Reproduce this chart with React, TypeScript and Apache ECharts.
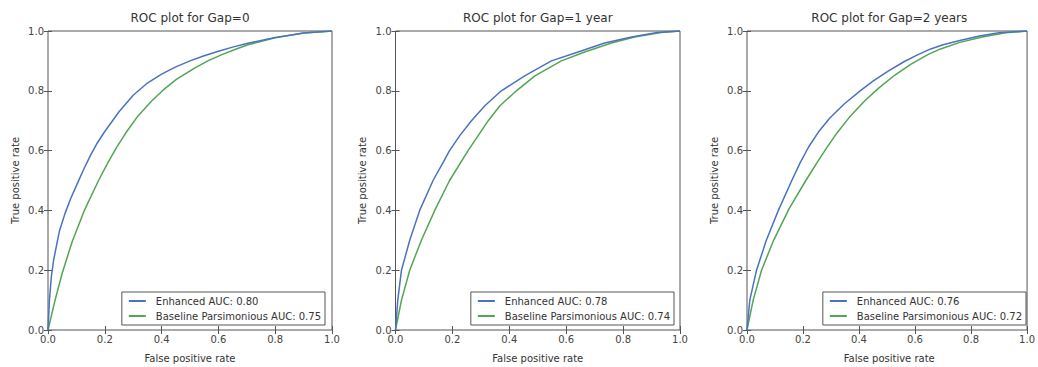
import React, { useEffect, useRef } from "react";
import * as echarts from "echarts";

const panelTitles = ["ROC plot for Gap=0", "ROC plot for Gap=1 year", "ROC plot for Gap=2 years"];
const enhancedNames = ["Enhanced AUC: 0.80", "Enhanced AUC: 0.78", "Enhanced AUC: 0.76"];
const baselineNames = [
  "Baseline Parsimonious AUC: 0.75",
  "Baseline Parsimonious AUC: 0.74",
  "Baseline Parsimonious AUC: 0.72",
];
const xTitle = "False positive rate";
const yTitle = "True positive rate";

const gap0Enhanced: [number, number][] = [
  [0, 0], [0.005, 0.1], [0.012, 0.18], [0.02, 0.235], [0.04, 0.33], [0.06, 0.39], [0.08, 0.44],
  [0.1, 0.483], [0.125, 0.536], [0.15, 0.585], [0.175, 0.628], [0.2, 0.664], [0.25, 0.73],
  [0.3, 0.785], [0.35, 0.826], [0.4, 0.856], [0.45, 0.88], [0.5, 0.9], [0.55, 0.917],
  [0.6, 0.932], [0.65, 0.946], [0.7, 0.958], [0.8, 0.978], [0.9, 0.993], [1, 1],
];
const gap0Baseline: [number, number][] = [
  [0, 0], [0.025, 0.1], [0.05, 0.19], [0.085, 0.295], [0.128, 0.4], [0.178, 0.5], [0.211, 0.56],
  [0.241, 0.61], [0.276, 0.662], [0.317, 0.716], [0.364, 0.765], [0.405, 0.802], [0.452, 0.838],
  [0.516, 0.876], [0.563, 0.9], [0.61, 0.92], [0.663, 0.94], [0.704, 0.954], [0.8, 0.977],
  [0.9, 0.993], [1, 1],
];
const gap1Enhanced: [number, number][] = [
  [0, 0], [0.008, 0.1], [0.021, 0.2], [0.05, 0.3], [0.085, 0.4], [0.132, 0.5], [0.167, 0.56],
  [0.19, 0.6], [0.226, 0.65], [0.267, 0.7], [0.314, 0.75], [0.372, 0.8], [0.454, 0.85],
  [0.548, 0.9], [0.642, 0.93], [0.735, 0.96], [0.83, 0.98], [0.92, 0.995], [1, 1],
];
const gap1Baseline: [number, number][] = [
  [0, 0], [0.021, 0.1], [0.05, 0.2], [0.091, 0.3], [0.138, 0.4], [0.19, 0.5], [0.255, 0.6],
  [0.326, 0.7], [0.367, 0.75], [0.425, 0.8], [0.49, 0.85], [0.583, 0.9], [0.665, 0.93],
  [0.759, 0.96], [0.84, 0.98], [0.934, 0.995], [1, 1],
];
const gap2Enhanced: [number, number][] = [
  [0, 0], [0.01, 0.1], [0.034, 0.2], [0.069, 0.3], [0.112, 0.4], [0.16, 0.5], [0.19, 0.56],
  [0.22, 0.612], [0.255, 0.662], [0.295, 0.708], [0.346, 0.755], [0.404, 0.8], [0.451, 0.833],
  [0.504, 0.866], [0.562, 0.898], [0.609, 0.92], [0.656, 0.94], [0.7, 0.954], [0.76, 0.968],
  [0.83, 0.983], [0.9, 0.994], [1, 1],
];
const gap2Baseline: [number, number][] = [
  [0, 0], [0.022, 0.1], [0.052, 0.2], [0.095, 0.3], [0.15, 0.405], [0.21, 0.5], [0.25, 0.56],
  [0.285, 0.61], [0.322, 0.66], [0.366, 0.712], [0.42, 0.766], [0.469, 0.808], [0.527, 0.852],
  [0.586, 0.889], [0.644, 0.92], [0.691, 0.94], [0.76, 0.962], [0.84, 0.98], [0.923, 0.994],
  [1, 1],
];

const enhancedData = [gap0Enhanced, gap1Enhanced, gap2Enhanced];
const baselineData = [gap0Baseline, gap1Baseline, gap2Baseline];

const FONT = "DejaVu Sans";
const BLUE = "#4a72c0";
const GREEN = "#52a552";
const FRAME = "#555555";
const TEXT = "#333333";

const grids = [
  { left: 48, width: 284 },
  { left: 395.5, width: 284.5 },
  { left: 747, width: 284.5 },
];
const GRID_TOP = 31;
const GRID_H = 299;
const legendRight = [713, 364, 12];

export default function App() {
  const ref = useRef<HTMLDivElement>(null);
  useEffect(() => {
    document.body.style.margin = "0";
    const chart = echarts.init(ref.current!, undefined, { renderer: "svg" });

    const grid: any[] = [];
    const xAxis: any[] = [];
    const yAxis: any[] = [];
    const series: any[] = [];
    const legend: any[] = [];
    const graphic: any[] = [];

    grids.forEach((g, i) => {
      grid.push({
        left: g.left,
        top: GRID_TOP,
        width: g.width,
        height: GRID_H,
        show: true,
        borderColor: FRAME,
        borderWidth: 1,
        backgroundColor: "transparent",
      });
      const baseAxis = {
        type: "value",
        min: 0,
        max: 1,
        interval: 0.2,
        gridIndex: i,
        axisLine: { show: false },
        splitLine: { show: false },
        axisTick: { show: true, inside: true, length: 4, lineStyle: { color: FRAME } },
      };
      xAxis.push({
        ...baseAxis,
        position: "bottom",
        axisLabel: {
          show: true,
          margin: 4,
          fontSize: 10,
          color: "#444",
          fontFamily: FONT,
          formatter: (v: number) => v.toFixed(1),
        },
      });
      xAxis.push({ ...baseAxis, position: "top", axisLabel: { show: false } });
      yAxis.push({
        ...baseAxis,
        position: "left",
        axisLabel: {
          show: true,
          margin: 4,
          fontSize: 10,
          color: "#444",
          fontFamily: FONT,
          formatter: (v: number) => v.toFixed(1),
        },
      });
      yAxis.push({ ...baseAxis, position: "right", axisLabel: { show: false } });

      series.push({
        type: "line",
        name: enhancedNames[i],
        xAxisIndex: i * 2,
        yAxisIndex: i * 2,
        data: enhancedData[i],
        showSymbol: false,
        smooth: false,
        color: BLUE,
        lineStyle: { color: BLUE, width: 1.5, join: "round" },
        z: 3,
      });
      series.push({
        type: "line",
        name: baselineNames[i],
        xAxisIndex: i * 2,
        yAxisIndex: i * 2,
        data: baselineData[i],
        showSymbol: false,
        smooth: false,
        color: GREEN,
        lineStyle: { color: GREEN, width: 1.5, join: "round" },
        z: 2,
      });

      legend.push({
        orient: "vertical",
        right: legendRight[i],
        top: 292,
        data: [enhancedNames[i], baselineNames[i]],
        icon: "rect",
        itemWidth: 17,
        itemHeight: 2,
        itemGap: 3,
        padding: [3, 4, 3, 7],
        borderColor: FRAME,
        borderWidth: 1,
        backgroundColor: "#ffffff",
        selectedMode: false,
        z: 10,
        textStyle: {
          fontSize: 10,
          lineHeight: 12,
          color: TEXT,
          fontFamily: FONT,
          padding: [0, 0, 0, 5],
        },
      });

      const cx = g.left + g.width / 2;
      graphic.push({
        type: "text",
        x: cx,
        y: 18,
        style: {
          text: panelTitles[i],
          fontSize: 12,
          fontFamily: FONT,
          fill: TEXT,
          textAlign: "center",
          textVerticalAlign: "middle",
        },
      });
      graphic.push({
        type: "text",
        x: cx,
        y: 358,
        style: {
          text: xTitle,
          fontSize: 10,
          fontFamily: FONT,
          fill: TEXT,
          textAlign: "center",
          textVerticalAlign: "middle",
        },
      });
      graphic.push({
        type: "text",
        x: g.left - 33,
        y: GRID_TOP + GRID_H / 2,
        rotation: Math.PI / 2,
        style: {
          text: yTitle,
          fontSize: 10,
          fontFamily: FONT,
          fill: TEXT,
          textAlign: "center",
          textVerticalAlign: "middle",
        },
      });
    });

    chart.setOption({
      animation: false,
      backgroundColor: "#ffffff",
      textStyle: { fontFamily: FONT },
      grid,
      xAxis,
      yAxis,
      series,
      legend,
      graphic,
    });

    return () => chart.dispose();
  }, []);

  return (
    <div
      ref={ref}
      style={{ position: "fixed", left: 0, top: 0, width: 1038, height: 367 }}
    />
  );
}
